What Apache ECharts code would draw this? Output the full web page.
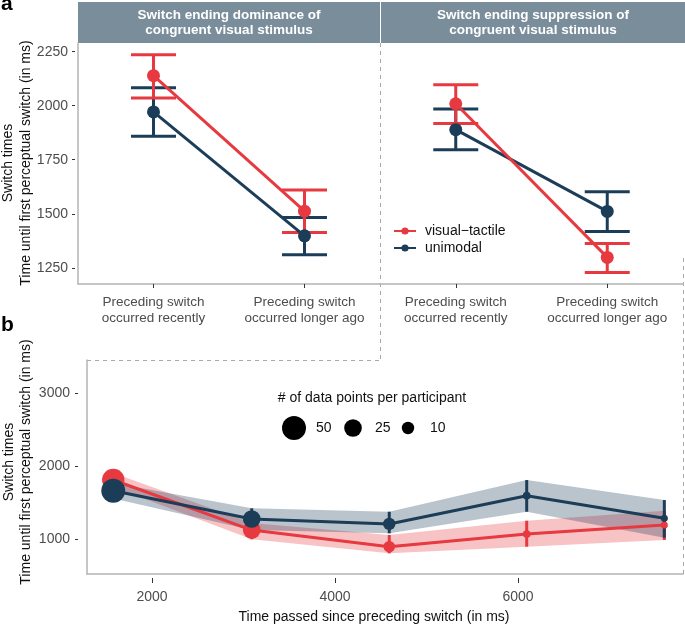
<!DOCTYPE html>
<html>
<head>
<meta charset="utf-8">
<script src="https://cdn.jsdelivr.net/npm/echarts@6/dist/echarts.min.js"></script>
<style>html,body{margin:0;padding:0;background:#fff}#c{width:685px;height:626px}</style>
</head>
<body>
<div id="c"></div>
<script>
// ---------- DATA ----------
const catLabels = ['Preceding switch\noccurred recently', 'Preceding switch\noccurred longer ago'];
const panelTitles = ['Switch ending dominance of\ncongruent visual stimulus', 'Switch ending suppression of\ncongruent visual stimulus'];
const seriesNames = ['visual\u2212tactile', 'unimodal'];
const yTicksA = [1250, 1500, 1750, 2000, 2250];

// panel a, left facet (dominance)
const domVT = [2139, 1512];
const domVTlo = [2036, 1413];
const domVThi = [2236, 1610];
const domUni = [1971, 1398];
const domUniLo = [1858, 1310];
const domUniHi = [2083, 1483];
// panel a, right facet (suppression)
const supVT = [2009, 1298];
const supVTlo = [1917, 1228];
const supVThi = [2097, 1362];
const supUni = [1889, 1511];
const supUniLo = [1796, 1418];
const supUniHi = [1985, 1602];

// panel b
const timeX = [1577, 3090, 4593, 6095, 7599];
const vtMean = [1812, 1127, 899, 1073, 1196];
const vtLo = [1717, 1000, 808, 899, 990];
const vtHi = [1907, 1225, 1059, 1255, 1392];
const vtN = [43, 25, 8, 1, 0];
const uniMean = [1666, 1278, 1210, 1597, 1288];
const uniLo = [1560, 1127, 1082, 1378, 1022];
const uniHi = [1770, 1425, 1378, 1812, 1538];
const uniN = [50, 25, 10, 1, 0];
const xTicksB = [2000, 4000, 6000];
const yTicksB = [1000, 2000, 3000];
const sizeLegendValues = [50, 25, 10];

// ---------- STYLE ----------
const RED = '#E63940';
const BLUE = '#1C3D58';
const AXIS = '#B3B3B3';
const LABEL = '#4D4D4D';
const FONT = '"Liberation Sans", Arial, sans-serif';
const sizeOf = n => Math.sqrt(49 + 10.5 * n);
const plain = v => String(v);

function capBars(color) {
  return function (params, api) {
    const x = api.value(0), lo = api.value(1), hi = api.value(2);
    const a = api.coord([x, lo]), b = api.coord([x, hi]);
    const w = 22.5;
    const st = { stroke: color, lineWidth: 3 };
    return { type: 'group', children: [
      { type: 'line', shape: { x1: a[0], y1: a[1], x2: b[0], y2: b[1] }, style: st },
      { type: 'line', shape: { x1: a[0] - w, y1: a[1], x2: a[0] + w, y2: a[1] }, style: st },
      { type: 'line', shape: { x1: b[0] - w, y1: b[1], x2: b[0] + w, y2: b[1] }, style: st }
    ]};
  };
}
function vBars(color) {
  return function (params, api) {
    const a = api.coord([api.value(0), api.value(1)]), b = api.coord([api.value(0), api.value(2)]);
    return { type: 'line', shape: { x1: a[0], y1: a[1], x2: b[0], y2: b[1] }, style: { stroke: color, lineWidth: 3 } };
  };
}
function ribbon(xs, lo, hi, fill) {
  return function (params, api) {
    if (params.dataIndex !== 0) return null;
    const pts = [];
    for (let i = 0; i < xs.length; i++) pts.push(api.coord([xs[i], hi[i]]));
    for (let i = xs.length - 1; i >= 0; i--) pts.push(api.coord([xs[i], lo[i]]));
    return { type: 'polygon', shape: { points: pts }, style: { fill: fill } };
  };
}
const catErr = (lo, hi) => lo.map((v, i) => [i, v, hi[i]]);
const numErr = (xs, lo, hi) => xs.map((x, i) => [x, lo[i], hi[i]]);
const pts = (xs, m, n) => xs.map((x, i) => [x, m[i], n[i]]);

function catXAxis(grid) {
  return { type: 'category', gridIndex: grid, position: 'bottom', data: catLabels, boundaryGap: true,
    axisLine: { show: true, onZero: false, lineStyle: { color: AXIS, width: 1.5 } },
    axisTick: { show: true, alignWithLabel: true, length: 4, lineStyle: { color: '#333' } },
    axisLabel: { interval: 0, fontSize: 13.5, color: LABEL, lineHeight: 16, margin: 10, fontFamily: FONT },
    splitLine: { show: false } };
}

const option = {
  animation: false,
  textStyle: { fontFamily: FONT },
  grid: [
    { left: 78, top: 43, width: 302, height: 241 },
    { left: 380, top: 43, width: 303, height: 241 },
    { left: 87, top: 360, width: 596, height: 214 }
  ],
  xAxis: [
    catXAxis(0),
    catXAxis(1),
    { type: 'value', gridIndex: 2, position: 'bottom', min: 1290, max: 7803, offset: 4,
      axisLine: { show: false, onZero: false },
      axisTick: { show: true, length: 5, customValues: xTicksB, lineStyle: { color: '#333' } },
      axisLabel: { customValues: xTicksB, formatter: plain, fontSize: 14, color: LABEL, margin: 12, fontFamily: FONT },
      splitLine: { show: false } },
    { type: 'value', gridIndex: 2, position: 'bottom', min: 1290, max: 7803, offset: 0,
      axisLine: { show: true, onZero: false, lineStyle: { color: AXIS, width: 1.5 } },
      axisTick: { show: false }, axisLabel: { show: false }, splitLine: { show: false } }
  ],
  yAxis: [
    { type: 'value', gridIndex: 0, position: 'left', min: 1175, max: 2290, offset: 3,
      axisLine: { show: false, onZero: false },
      axisTick: { show: true, length: 3, customValues: yTicksA, lineStyle: { color: '#333' } },
      axisLabel: { customValues: yTicksA, formatter: plain, fontSize: 14, color: LABEL, margin: 7, padding: [0, 0, 10, 0], fontFamily: FONT },
      splitLine: { show: false } },
    { type: 'value', gridIndex: 1, position: 'left', min: 1175, max: 2290, show: false, splitLine: { show: false } },
    { type: 'value', gridIndex: 0, position: 'left', min: 1175, max: 2290, offset: 0,
      axisLine: { show: true, onZero: false, lineStyle: { color: AXIS, width: 1.5 } },
      axisTick: { show: false }, axisLabel: { show: false }, splitLine: { show: false } },
    { type: 'value', gridIndex: 2, position: 'left', min: 525, max: 3456, offset: 9,
      axisLine: { show: false, onZero: false },
      axisTick: { show: true, length: 3, customValues: yTicksB, lineStyle: { color: '#333' } },
      axisLabel: { customValues: yTicksB, formatter: plain, fontSize: 14, color: LABEL, margin: 8, padding: [0, 0, 10, 0], fontFamily: FONT },
      splitLine: { show: false } },
    { type: 'value', gridIndex: 2, position: 'left', min: 525, max: 3456, offset: 0,
      axisLine: { show: true, onZero: false, lineStyle: { color: AXIS, width: 1.5 } },
      axisTick: { show: false }, axisLabel: { show: false }, splitLine: { show: false } }
  ],
  legend: {
    data: seriesNames, orient: 'vertical', left: 388, top: 219,
    itemWidth: 22, itemHeight: 9, itemGap: 3,
    textStyle: { fontSize: 14, color: '#111', lineHeight: 14, padding: [0, 0, 0, 4], fontFamily: FONT },
    selectedMode: false
  },
  series: [
    // panel a, left
    { type: 'custom', xAxisIndex: 0, yAxisIndex: 0, data: catErr(domUniLo, domUniHi), renderItem: capBars(BLUE), encode: { x: 0, y: [1, 2] } },
    { type: 'line', name: seriesNames[1], xAxisIndex: 0, yAxisIndex: 0, data: domUni, symbol: 'circle', symbolSize: 13,
      itemStyle: { color: BLUE }, lineStyle: { color: BLUE, width: 3 } },
    { type: 'custom', xAxisIndex: 0, yAxisIndex: 0, data: catErr(domVTlo, domVThi), renderItem: capBars(RED), encode: { x: 0, y: [1, 2] } },
    { type: 'line', name: seriesNames[0], xAxisIndex: 0, yAxisIndex: 0, data: domVT, symbol: 'circle', symbolSize: 13,
      itemStyle: { color: RED }, lineStyle: { color: RED, width: 3 } },
    // panel a, right
    { type: 'custom', xAxisIndex: 1, yAxisIndex: 1, data: catErr(supUniLo, supUniHi), renderItem: capBars(BLUE), encode: { x: 0, y: [1, 2] } },
    { type: 'line', name: seriesNames[1], xAxisIndex: 1, yAxisIndex: 1, data: supUni, symbol: 'circle', symbolSize: 13,
      itemStyle: { color: BLUE }, lineStyle: { color: BLUE, width: 3 } },
    { type: 'custom', xAxisIndex: 1, yAxisIndex: 1, data: catErr(supVTlo, supVThi), renderItem: capBars(RED), encode: { x: 0, y: [1, 2] } },
    { type: 'line', name: seriesNames[0], xAxisIndex: 1, yAxisIndex: 1, data: supVT, symbol: 'circle', symbolSize: 13,
      itemStyle: { color: RED }, lineStyle: { color: RED, width: 3 } },
    // panel b ribbons
    { type: 'custom', xAxisIndex: 2, yAxisIndex: 3, data: numErr(timeX, vtLo, vtHi), renderItem: ribbon(timeX, vtLo, vtHi, 'rgba(230,57,64,0.3)'), encode: { x: 0, y: [1, 2] } },
    { type: 'custom', xAxisIndex: 2, yAxisIndex: 3, data: numErr(timeX, uniLo, uniHi), renderItem: ribbon(timeX, uniLo, uniHi, 'rgba(28,61,88,0.3)'), encode: { x: 0, y: [1, 2] } },
    // panel b red
    { type: 'custom', xAxisIndex: 2, yAxisIndex: 3, data: numErr(timeX, vtLo, vtHi), renderItem: vBars(RED), encode: { x: 0, y: [1, 2] } },
    { type: 'line', xAxisIndex: 2, yAxisIndex: 3, data: pts(timeX, vtMean, vtN), symbol: 'circle',
      symbolSize: v => sizeOf(v[2]), itemStyle: { color: RED }, lineStyle: { color: RED, width: 3 } },
    // panel b blue
    { type: 'custom', xAxisIndex: 2, yAxisIndex: 3, data: numErr(timeX, uniLo, uniHi), renderItem: vBars(BLUE), encode: { x: 0, y: [1, 2] } },
    { type: 'line', xAxisIndex: 2, yAxisIndex: 3, data: pts(timeX, uniMean, uniN), symbol: 'circle',
      symbolSize: v => sizeOf(v[2]), itemStyle: { color: BLUE }, lineStyle: { color: BLUE, width: 3 } }
  ],
  graphic: []
};

// headers
const G = option.graphic;
G.push({ type: 'rect', shape: { x: 78, y: 2, width: 302, height: 41 }, style: { fill: '#7A8D9B' } });
G.push({ type: 'rect', shape: { x: 381, y: 2, width: 304, height: 41 }, style: { fill: '#7A8D9B' } });
G.push({ type: 'text', x: 229, y: 23, style: { text: panelTitles[0], fill: '#fff', font: 'bold 13.5px ' + FONT, align: 'center', verticalAlign: 'middle', lineHeight: 15 } });
G.push({ type: 'text', x: 533, y: 23, style: { text: panelTitles[1], fill: '#fff', font: 'bold 13.5px ' + FONT, align: 'center', verticalAlign: 'middle', lineHeight: 15 } });
// dashed frame lines
const dash = { stroke: '#A8A8A8', lineWidth: 1, lineDash: [4, 4] };
G.push({ type: 'line', shape: { x1: 380.5, y1: 43, x2: 380.5, y2: 360 }, style: dash });
G.push({ type: 'line', shape: { x1: 87, y1: 360.5, x2: 380, y2: 360.5 }, style: dash });
G.push({ type: 'line', shape: { x1: 683.5, y1: 258, x2: 683.5, y2: 574 }, style: dash });
// panel letters
G.push({ type: 'text', x: 1, y: 4, style: { text: 'a', font: 'bold 21px ' + FONT, fill: '#000', verticalAlign: 'middle' } });
G.push({ type: 'text', x: 1, y: 325, style: { text: 'b', font: 'bold 21px ' + FONT, fill: '#000', verticalAlign: 'middle' } });
// axis titles
const ttl = '14px ' + FONT;
G.push({ type: 'text', x: 8.5, y: 163, rotation: Math.PI / 2, style: { text: 'Switch times', font: ttl, fill: '#111', align: 'center', verticalAlign: 'middle' } });
G.push({ type: 'text', x: 26, y: 163, rotation: Math.PI / 2, style: { text: 'Time until first perceptual switch (in ms)', font: ttl, fill: '#111', align: 'center', verticalAlign: 'middle' } });
G.push({ type: 'text', x: 9, y: 462, rotation: Math.PI / 2, style: { text: 'Switch times', font: ttl, fill: '#111', align: 'center', verticalAlign: 'middle' } });
G.push({ type: 'text', x: 26, y: 462, rotation: Math.PI / 2, style: { text: 'Time until first perceptual switch (in ms)', font: ttl, fill: '#111', align: 'center', verticalAlign: 'middle' } });
G.push({ type: 'text', x: 374, y: 617, style: { text: 'Time passed since preceding switch (in ms)', font: ttl, fill: '#111', align: 'center', verticalAlign: 'middle' } });
// size legend
G.push({ type: 'text', x: 372, y: 398, style: { text: '# of data points per participant', font: ttl, fill: '#111', align: 'center', verticalAlign: 'middle' } });
const legX = [294, 353, 408];
sizeLegendValues.forEach((v, i) => {
  G.push({ type: 'circle', shape: { cx: legX[i], cy: 428, r: sizeOf(v) / 2 }, style: { fill: '#000' } });
  G.push({ type: 'text', x: legX[i] + 22, y: 428, style: { text: String(v), font: ttl, fill: '#111', verticalAlign: 'middle' } });
});

const chart = echarts.init(document.getElementById('c'), null, { renderer: 'canvas' });
chart.setOption(option);
</script>
</body>
</html>
